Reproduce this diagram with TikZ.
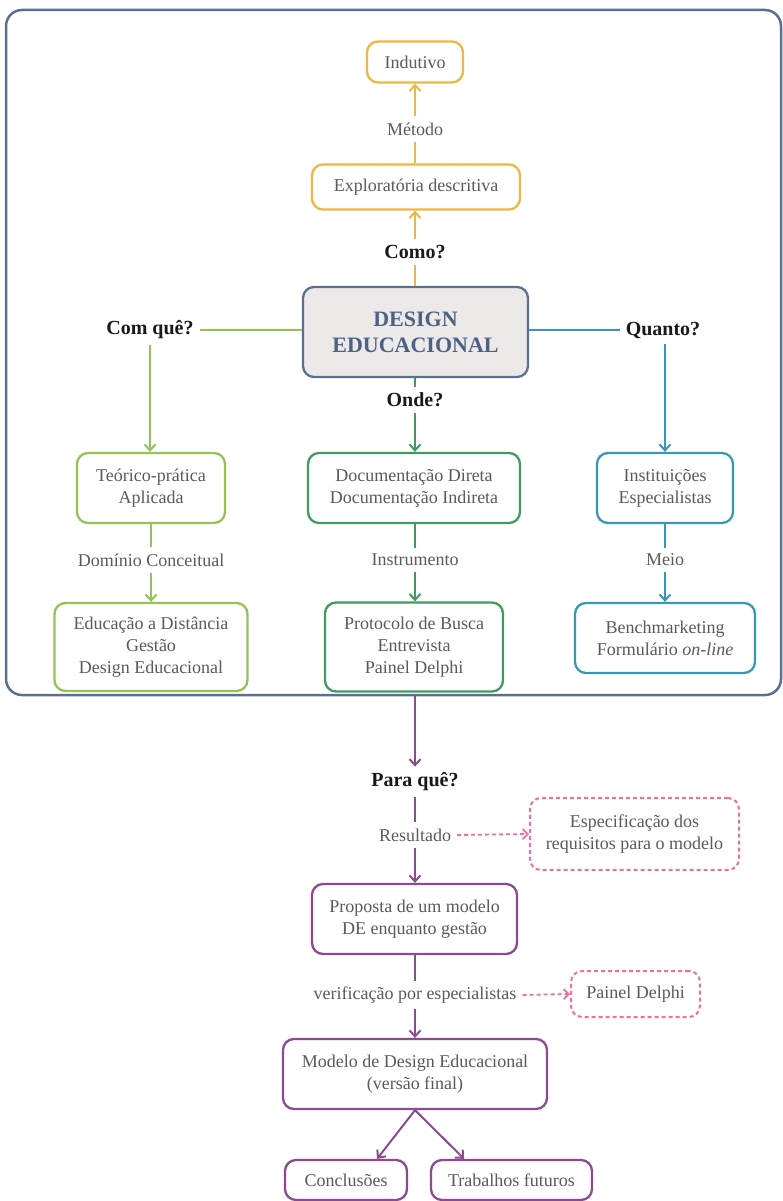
\documentclass[tikz,border=0pt]{standalone}
\usepackage{fontspec}
\setmainfont{Liberation Serif}
\usetikzlibrary{arrows.meta,calc}
\definecolor{frameblue}{HTML}{5B7091}
\definecolor{detext}{HTML}{4B6285}
\definecolor{defill}{HTML}{ECE9E8}
\definecolor{orangeC}{HTML}{EDB743}
\definecolor{limeC}{HTML}{92C353}
\definecolor{greenC}{HTML}{3E9C5E}
\definecolor{tealC}{HTML}{3A97B1}
\definecolor{purpleC}{HTML}{8C4A91}
\definecolor{pinkC}{HTML}{EE6E9D}
\definecolor{txt}{HTML}{5A5A5A}
\begin{document}
\begin{tikzpicture}[x=1pt,y=-1pt,
  every node/.style={font=\fontsize{18}{22}\selectfont, text=txt, align=center},
  box/.style={draw, rounded corners=11pt, line width=2.3pt, fill=white, inner sep=0pt},
  dbox/.style={box, draw=pinkC, dash pattern=on 4pt off 3pt, line width=2pt},
  lbl/.style={inner sep=6pt},
  qlbl/.style={font=\fontsize{20}{24}\selectfont\bfseries, text=black!90, inner sep=6pt},
  link/.style={line width=2pt},
  arr/.style={link, -{Straight Barb[length=6pt,width=11pt,line width=2pt]}},
  darr/.style={line width=1.8pt, pinkC, dash pattern=on 4pt off 3pt, -{Straight Barb[length=5pt,width=10pt,line width=1.8pt]}}
]
\useasboundingbox (0,0) rectangle (782,1201);

% outer frame
\node[draw=frameblue, line width=2.5pt, rounded corners=16pt, minimum width=775pt, minimum height=685pt, inner sep=0pt] (frame) at (393.5,352.5) {};

% central node
\node[box, draw=frameblue, fill=defill, minimum width=225pt, minimum height=90pt,
  font=\fontsize{22}{26}\selectfont\bfseries, text=detext] (de) at (415.5,332) {DESIGN\\EDUCACIONAL};

% top branch (how)
\node[box, draw=orangeC, minimum width=96pt, minimum height=41pt] (ind) at (415,62) {Indutivo};
\node[box, draw=orangeC, minimum width=208pt, minimum height=45pt] (expl) at (416,187) {Exploratória descritiva};
\node[lbl] (metodo) at (415,129) {Método};
\node[qlbl] (como) at (415,252) {Como?};
\draw[arr, orangeC] (como.north) -- (como.north |- expl.south);
\draw[link, orangeC] (expl.north -| metodo) -- (metodo.south);
\draw[arr, orangeC] (metodo.north) -- (metodo.north |- ind.south);
\draw[link, orangeC] (como.south) -- (como.south |- de.north);

% left branch (with what)
\node[qlbl] (comque) at (150,330) {Com quê?};
\node[box, draw=limeC, minimum width=148pt, minimum height=70pt] (teo) at (151,488) {Teórico-prática\\Aplicada};
\node[lbl] (dominio) at (151,560) {Domínio Conceitual};
\node[box, draw=limeC, minimum width=193pt, minimum height=88pt] (edu) at (151,647) {Educação a Distância\\Gestão\\Design Educacional};
\draw[link, limeC] (de.west |- comque) -- (comque.east);
\draw[arr, limeC] (comque.south) -- (comque.south |- teo.north);
\draw[link, limeC] (teo.south -| dominio) -- (dominio.north);
\draw[arr, limeC] (dominio.south) -- (dominio.south |- edu.north);

% middle branch (where)
\node[qlbl] (onde) at (415,400) {Onde?};
\node[box, draw=greenC, minimum width=212pt, minimum height=70pt] (doc) at (414,488) {Documentação Direta\\Documentação Indireta};
\node[lbl] (instr) at (415,560) {Instrumento};
\node[box, draw=greenC, minimum width=178pt, minimum height=89pt] (prot) at (414,647) {Protocolo de Busca\\Entrevista\\Painel Delphi};
\draw[link, greenC] (de.south -| onde) -- (onde.north);
\draw[arr, greenC] (onde.south) -- (onde.south |- doc.north);
\draw[link, greenC] (doc.south -| instr) -- (instr.north);
\draw[arr, greenC] (instr.south) -- (instr.south |- prot.north);

% right branch (how much)
\node[qlbl] (quanto) at (663,330) {Quanto?};
\node[box, draw=tealC, minimum width=136pt, minimum height=70pt] (inst) at (665,488) {Instituições\\Especialistas};
\node[lbl] (meio) at (665,560) {Meio};
\node[box, draw=tealC, minimum width=180pt, minimum height=70pt] (bench) at (665,638) {Benchmarketing\\Formulário \textit{on-line}};
\draw[link, tealC] (de.east |- quanto) -- (quanto.west);
\draw[arr, tealC] (quanto.south -| inst) -- (inst.north);
\draw[link, tealC] (inst.south -| meio) -- (meio.north);
\draw[arr, tealC] (meio.south) -- (meio.south |- bench.north);

% lower flow (what for)
\node[qlbl] (paraque) at (415,782) {Para quê?};
\node[lbl] (result) at (415,835) {Resultado};
\node[dbox, minimum width=209pt, minimum height=72pt] (esp) at (634.5,834) {Especificação dos\\requisitos para o modelo};
\node[box, draw=purpleC, minimum width=205pt, minimum height=70pt] (prop) at (414.5,919) {Proposta de um modelo\\DE enquanto gestão};
\node[lbl] (verif) at (415,995) {verificação por especialistas};
\node[dbox, minimum width=129pt, minimum height=46pt] (pd) at (635.5,994) {Painel Delphi};
\node[box, draw=purpleC, minimum width=264pt, minimum height=70pt] (mod) at (415,1074) {Modelo de Design Educacional\\(versão final)};
\node[box, draw=purpleC, minimum width=122pt, minimum height=40pt] (conc) at (346,1180) {Conclusões};
\node[box, draw=purpleC, minimum width=161pt, minimum height=40pt] (trab) at (511.5,1180) {Trabalhos futuros};

\draw[arr, purpleC] (frame.south -| paraque) -- (paraque.north);
\draw[link, purpleC] (paraque.south) -- (result.north);
\draw[arr, purpleC] (result.south) -- (result.south |- prop.north);
\draw[darr] (result.east) -- (esp.west);
\draw[link, purpleC] (prop.south -| verif) -- (verif.north);
\draw[arr, purpleC] (verif.south) -- (verif.south |- mod.north);
\draw[darr] (verif.east) -- (pd.west);
\draw[arr, purpleC] (mod.south) -- ($(conc.north)!0.5!(conc.north east)$);
\draw[arr, purpleC] (mod.south) -- ($(trab.north)!0.58!(trab.north west)$);
\end{tikzpicture}
\end{document}
